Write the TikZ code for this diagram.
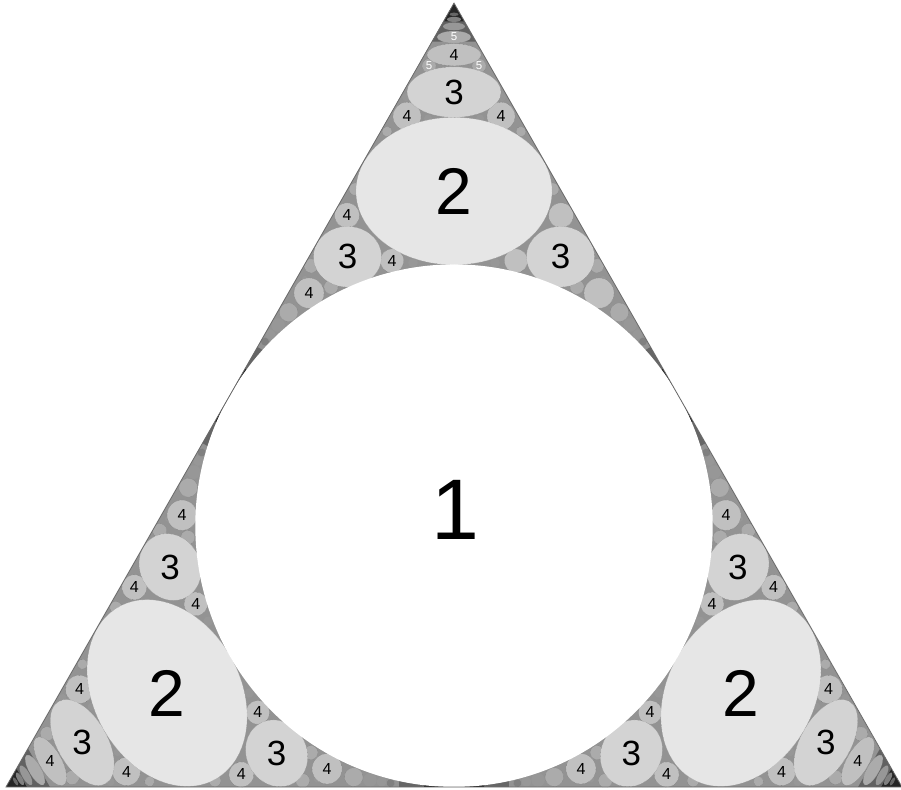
\documentclass[tikz,border=0pt]{standalone}
\usepackage{fontspec}
\setmainfont{Liberation Sans}
\definecolor{cA}{HTML}{E6E6E6}
\definecolor{cB}{HTML}{D3D3D3}
\definecolor{cC}{HTML}{C0C0C0}
\definecolor{cD}{HTML}{ABABAB}
\definecolor{cE}{HTML}{979797}
\definecolor{cF}{HTML}{808080}
\definecolor{cG}{HTML}{666666}
\definecolor{bgc}{HTML}{939393}
\definecolor{edgec}{HTML}{6A6A6A}
\tikzset{
  gtwo/.style={fill=cA, draw=cE, densely dotted, line width=0.35pt},
  gthree/.style={fill=cB, draw=cF, densely dotted, line width=0.35pt},
  gfour/.style={fill=cC, draw=edgec, densely dotted, line width=0.35pt},
  gfive/.style={fill=cD, draw=edgec, densely dotted, line width=0.3pt},
  gsix/.style={fill=cE},
  gseven/.style={fill=cF},
  geight/.style={fill=cG},
  tipdark/.style={fill=black!62},
  tipdarker/.style={fill=black!85},
  cuspa/.style={fill=black!60},
  cuspb/.style={fill=black!90},
  labone/.style={font=\fontsize{86}{86}\selectfont, inner sep=0pt},
  labtwo/.style={font=\fontsize{66}{66}\selectfont, inner sep=0pt},
  labthree/.style={font=\fontsize{35}{35}\selectfont, inner sep=0pt},
  labfour/.style={font=\fontsize{16}{16}\selectfont, inner sep=0pt},
  labfive/.style={font=\fontsize{11.5}{11.5}\selectfont, inner sep=0pt, text=white},
}
% one half of a corner sector (left half, local ideal coordinates)
\newcommand\HalfSec[2]{%
  \path[cuspa] (224,388) -- (251.5,435.6) -- (256.7,432.6) -- (229.2,385) -- cycle;
  \path[cuspb] (224,388) -- (239,414) -- (241.5,412.6) -- (226.5,386.6) -- cycle;
  \path[gseven] (259,441) circle (3.9);
  \path[gsix] (264.6,448.1) circle (5);
  \path[gsix] (272,457.4) circle (6.8);
  \path[gfive] (282.6,470) circle (9.3);
  \path[gfive] (305,516) circle (7);
  \path[gsix] (299,503) circle (3);
  \path[gfive] (325,495) circle (7);
  \path[gfive] (349,592) circle (6);
  \path[gfive] (381,649) circle (5);
  \path[gsix] (422,662) circle (4);
  \path[gsix] (400,683) circle (4);
  \path[gsix] (407,519) circle (4.8);
  \path[gfour] (303,489) circle (15);
  \path[gfour] (341,566) circle (12.5);
  \path[gfour] (386,521) circle (11.8);
  \path[gfour] (401,664) circle (14);
  \path[gthree] (341.5,525) ellipse (34 and 30);
  \node[labfour] (#1-fa) at (303,489) {#2};
  \node[labfour] (#1-fb) at (341,566) {#2};
  \node[labfour] (#1-fc) at (386,521) {#2};
  \node[labfour] (#1-fd) at (401,664) {4};
  \node[labthree] (#1-th) at (341.5,525) {3};
}
% the chain along the axis of a corner sector
\newcommand\TipChain[2]{%
  \path[tipdark] (448,776) -- (426,738) -- (470,738) -- cycle;
  \path[tipdarker] (448,776) -- (437.6,758) -- (458.4,758) -- cycle;
  \path[geight] (448,765) ellipse (4.5 and 1.7);
  \path[gseven] (448,760) ellipse (7 and 2.5);
  \path[gsix] (448,753) ellipse (11 and 3.8);
  \path[gfive] (448,742.5) ellipse (17 and 6);
  \path[gfive] (423,714) circle (7);
  \path[gfive] (473,714) circle (7);
  \path[gfour] (448,725) ellipse (27 and 11);
  \path[gthree] (448,688) ellipse (47 and 25);
  \path[gtwo] (448,590) ellipse (98 and 73);
  \node[labtwo] (#1-two) at (448,590) {2};
  \node[labthree] (#1-three) at (448,688) {3};
  \node[labfour] (#1-four) at (448,725) {4};
  \node[labfive] (#1-five) at (448,742.5) {#2};
  \node[labfive] (#1-fivel) at (423,714) {#2};
  \node[labfive] (#1-fiver) at (473,714) {#2};
}
\newcommand\SecDraw[4]{%
  \begin{scope}[rotate around={#1:(448,258.7)}]
    \HalfSec{#2a}{4}
    \begin{scope}[xshift=896pt, xscale=-1]
      \HalfSec{#2b}{#3}
    \end{scope}
    \TipChain{#2}{#4}
  \end{scope}}

\begin{document}
\begin{tikzpicture}[x=1pt, y=1pt]
\useasboundingbox (0,0) rectangle (901,789);
\fill[white] (0,0) rectangle (901,789);
\begin{scope}[shift={(6pt,2pt)}, yscale=1.01]
  \coordinate (A) at (0,0);
  \coordinate (B) at (896,0);
  \coordinate (C) at (448,776);
  \coordinate (O) at (448,258.7);
  \begin{scope}
    \clip (A) -- (B) -- (C) -- cycle;
    \fill[bgc] (A) -- (B) -- (C) -- cycle;
    \SecDraw{0}{t}{}{5}
    \SecDraw{120}{l}{4}{}
    \SecDraw{-120}{r}{4}{}
    \fill[white] (O) circle (258.7);
  \end{scope}
  \draw[edgec, line width=0.8pt] (A) -- (B) -- (C) -- cycle;
  \node[labone] (one) at (449,274) {1};
\end{scope}
\end{tikzpicture}
\end{document}
